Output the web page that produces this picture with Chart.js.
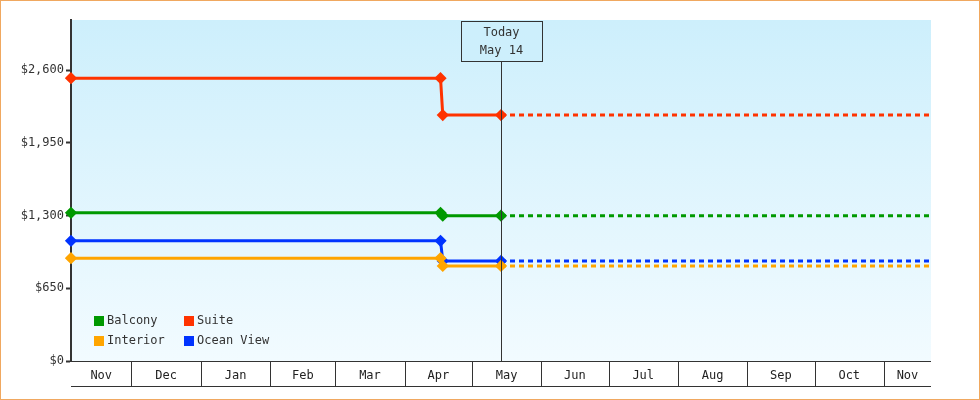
<!DOCTYPE html>
<html>
<head>
<meta charset="utf-8">
<script src="https://cdn.jsdelivr.net/npm/chart.js@4"></script>
<style>
  html, body { margin: 0; padding: 0; background: #fff; }
  #wrap { width: 978px; height: 398px; border: 1px solid #f0a860; }
</style>
</head>
<body>
<div id="wrap"><canvas id="grafico" width="978" height="398"></canvas></div>
<script>
// data
var startDate = "2023-11-04";
var endDate = "2024-11-22";
var todayDate = "2024-05-14";
var changeDates = ["2023-11-04", "2024-04-17", "2024-04-18", "2024-05-14", "2024-11-22"];
var seriesNames = ["Balcony", "Suite", "Interior", "Ocean View"];
var seriesColors = ["#009900", "#ff3300", "#ffa500", "#0033ff"];
var balcony = [1325, 1325, 1300, 1300, 1300];
var suite = [2530, 2530, 2200, 2200, 2200];
var interior = [920, 920, 850, 850, 850];
var oceanView = [1075, 1075, 895, 895, 895];
var monthStarts = ["2023-11-04", "2023-12-01", "2024-01-01", "2024-02-01", "2024-03-01", "2024-04-01",
  "2024-05-01", "2024-06-01", "2024-07-01", "2024-08-01", "2024-09-01", "2024-10-01", "2024-11-01", "2024-11-22"];
var monthLabels = ["Nov", "Dec", "Jan", "Feb", "Mar", "Apr", "May", "Jun", "Jul", "Aug", "Sep", "Oct", "Nov"];
var yTicks = [0, 650, 1300, 1950, 2600];

function dia(s) { return (Date.parse(s) - Date.parse(startDate)) / 86400000; }
var hoje = dia(todayDate);
var fonte = { family: "DejaVu Sans Mono", size: 12 };

function pontos(vals) {
  return vals.map(function (v, i) { return { x: dia(changeDates[i]), y: v }; });
}
var todas = [balcony, suite, interior, oceanView];
var datasets = todas.map(function (vals, i) {
  return {
    label: seriesNames[i],
    data: pontos(vals),
    borderColor: seriesColors[i],
    backgroundColor: seriesColors[i],
    borderWidth: 3,
    pointStyle: "rectRot",
    pointRadius: [4, 4, 4, 4, 0],
    pointHoverRadius: 0,
    segment: { borderDash: function (c) { return c.p0.parsed.x >= hoje ? [5, 4] : undefined; } },
    clip: false
  };
});

var fundo = {
  id: "fundo",
  beforeDraw: function (chart) {
    var a = chart.chartArea, ctx = chart.ctx;
    var g = ctx.createLinearGradient(0, a.top, 0, a.bottom);
    g.addColorStop(0, "#cdeffc");
    g.addColorStop(1, "#f2fbff");
    ctx.fillStyle = g;
    ctx.fillRect(a.left, a.top, a.right - a.left, a.bottom - a.top);
  },
  afterDraw: function (chart) {
    var a = chart.chartArea, ctx = chart.ctx, xs = chart.scales.x;
    ctx.save();
    // month cells
    ctx.strokeStyle = "#333"; ctx.lineWidth = 1;
    ctx.beginPath();
    monthStarts.slice(1, -1).forEach(function (m) {
      var px = Math.round(xs.getPixelForValue(dia(m))) + 0.5;
      ctx.moveTo(px, a.bottom); ctx.lineTo(px, a.bottom + 25);
    });
    ctx.moveTo(a.left, a.bottom + 25.5); ctx.lineTo(a.right, a.bottom + 25.5);
    ctx.moveTo(a.left, a.bottom + 0.5); ctx.lineTo(a.right, a.bottom + 0.5);
    ctx.stroke();
    // today line and box
    var tx = Math.round(xs.getPixelForValue(hoje)) + 0.5;
    ctx.beginPath();
    ctx.moveTo(tx, 60); ctx.lineTo(tx, a.bottom);
    ctx.stroke();
    ctx.fillStyle = "#cdeffc";
    ctx.fillRect(tx - 40, 20.5, 81, 40);
    ctx.strokeRect(tx - 40, 20.5, 81, 40);
    ctx.fillStyle = "#333";
    ctx.font = "12px 'DejaVu Sans Mono'";
    ctx.textAlign = "center"; ctx.textBaseline = "middle";
    ctx.fillText("Today", tx, 32);
    ctx.fillText("May 14", tx, 50);
    // legend
    var pos = [[93, 320], [183, 320], [93, 340], [183, 340]];
    ctx.textAlign = "left";
    seriesNames.forEach(function (n, i) {
      ctx.fillStyle = seriesColors[i];
      ctx.fillRect(pos[i][0], pos[i][1] - 5, 10, 10);
      ctx.fillStyle = "#333";
      ctx.fillText(n, pos[i][0] + 13, pos[i][1]);
    });
    ctx.restore();
  }
};

new Chart(document.getElementById("grafico").getContext("2d"), {
  type: "line",
  data: { datasets: datasets },
  plugins: [fundo],
  options: {
    responsive: false,
    animation: false,
    layout: { padding: { top: 19, right: 48, left: 0, bottom: 0 } },
    plugins: { legend: { display: false }, tooltip: { enabled: false } },
    scales: {
      x: {
        type: "linear",
        min: 0, max: dia(endDate),
        grid: { display: false, drawTicks: false },
        border: { display: false },
        afterFit: function (s) { s.height = 38; },
        afterBuildTicks: function (s) {
          s.ticks = monthLabels.map(function (m, i) {
            return { value: (dia(monthStarts[i]) + dia(monthStarts[i + 1])) / 2 };
          });
        },
        ticks: {
          autoSkip: false, maxRotation: 0, padding: 8, color: "#222", font: fonte,
          callback: function (v, i) { return monthLabels[i]; }
        }
      },
      y: {
        min: 0, max: 3050,
        afterFit: function (s) { s.width = 70; },
        afterBuildTicks: function (s) { s.ticks = yTicks.map(function (v) { return { value: v }; }); },
        grid: { display: true, drawOnChartArea: false, tickLength: 5, color: "#333", tickWidth: 2 },
        border: { display: true, color: "#333", width: 2 },
        ticks: {
          padding: 2, color: "#333", font: fonte,
          callback: function (v) { return "$" + v.toLocaleString("en-US"); }
        }
      }
    }
  }
});
</script>
</body>
</html>
